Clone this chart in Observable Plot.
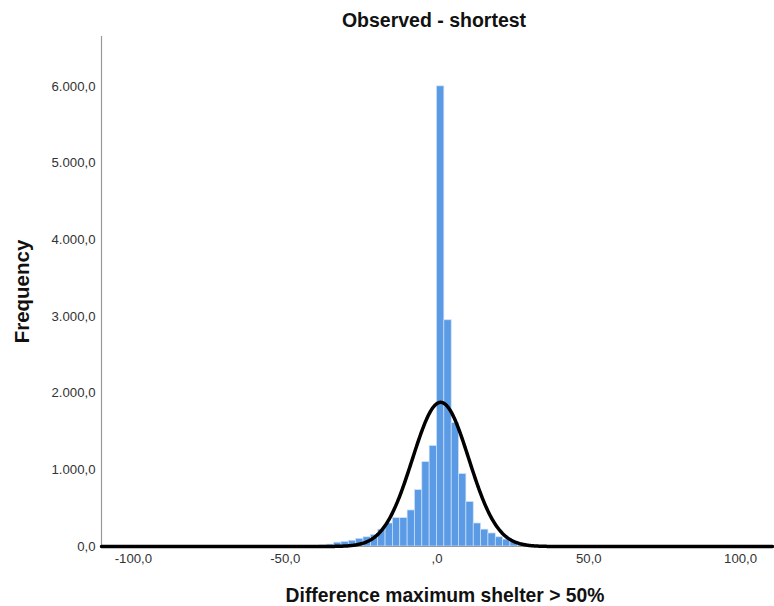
<!DOCTYPE html>
<html><head><meta charset="utf-8">
<script src="https://cdn.jsdelivr.net/npm/d3@7"></script>
<script src="https://cdn.jsdelivr.net/npm/@observablehq/plot@0.6"></script>
<style>body{margin:0;background:#fff;font-family:"Liberation Sans",Arial,sans-serif}</style>
</head><body><div id="chart"></div>
<script>
// Histogram bins: index k covers [k*binWidth, (k+1)*binWidth)
const binWidth = 2.42;
const binIndex = [-17,-16,-15,-14,-13,-12,-11,-10,-9,-8,-7,-6,-5,-4,-3,-2,-1,0,1,2,3,4,5,6,7,8,9,10,11,12,13];
const counts   = [8,15,25,50,60,75,100,120,150,220,300,370,370,470,735,1100,1310,6000,2950,1610,945,580,300,220,170,120,90,65,40,20,10];
const xTicks = [-100,-50,0,50,100];
const yTicks = [0,1000,2000,3000,4000,5000,6000];
// fitted normal curve parameters
const curveMean = 1.2, curveSD = 9.3, curvePeak = 1880;
const xDomain = [-110.5, 110.5];

const bins = binIndex.map((k,i)=>({x1:k*binWidth, x2:(k+1)*binWidth, count:counts[i]}));
const curve = d3.range(xDomain[0], xDomain[1]+0.001, 0.25).map(x=>({x, y: curvePeak*Math.exp(-0.5*((x-curveMean)/curveSD)**2)}));

const loc = d3.formatLocale({decimal:",", thousands:".", grouping:[3], currency:["",""], minus:"-"});
const f1 = loc.format(",.1f");
const xFmt = v => v === 0 ? ",0" : f1(v);

const font = "Liberation Sans, Arial, sans-serif";
const chart = Plot.plot({
  width: 774, height: 606,
  marginTop: 36, marginLeft: 101, marginRight: 2, marginBottom: 60,
  x: {domain: xDomain},
  y: {domain: [0, 6650]},
  style: {fontFamily: font, fontSize: "13px", color: "#333", background: "white"},
  marks: [
    Plot.rectY(bins, {x1:"x1", x2:"x2", y:"count", fill:"#5b9be6", stroke:"#cfe1f8", strokeWidth:0.7}),
    Plot.ruleX([xDomain[0]], {stroke:"#999", strokeWidth:1.2}),
    Plot.ruleY([0], {stroke:"#999", strokeWidth:1}),
    Plot.line(curve, {x:"x", y:"y", stroke:"black", strokeWidth:3.5}),
    Plot.axisX({ticks: xTicks, tickFormat: xFmt, tickSize: 0, tickPadding: 7, label: null, fontSize: 13.2}),
    Plot.axisY({ticks: yTicks, tickFormat: f1, tickSize: 0, tickPadding: 6, label: null, fontSize: 13.2}),
    Plot.text(["Observed - shortest"], {frameAnchor:"top", lineAnchor:"middle", textAnchor:"middle", dy:-16, dx:-3, fontWeight:"bold", fontSize:19.5, fill:"#111"}),
    Plot.text(["Difference maximum shelter > 50%"], {frameAnchor:"bottom", lineAnchor:"middle", textAnchor:"middle", dy:49, dx:8, fontWeight:"bold", fontSize:19.3, fill:"#111"}),
    Plot.text(["Frequency"], {frameAnchor:"left", lineAnchor:"middle", textAnchor:"middle", dx:-79, rotate:-90, fontWeight:"bold", fontSize:20.5, fill:"#111"})
  ]
});
document.getElementById("chart").appendChild(chart);
</script>
</body></html>
